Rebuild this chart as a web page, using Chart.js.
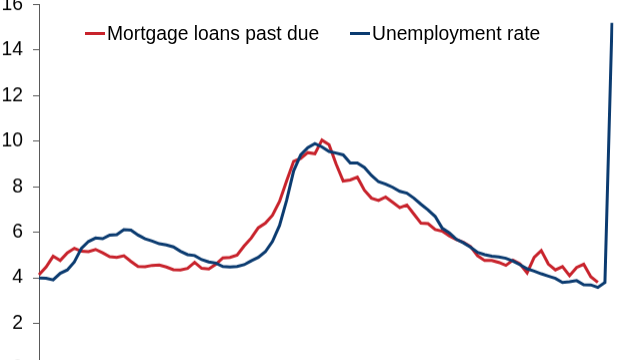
<!DOCTYPE html>
<html>
<head>
<meta charset="utf-8">
<script src="https://cdn.jsdelivr.net/npm/chart.js@4"></script>
<style>
  body { margin: 0; background: #fff; }
  #wrap { position: relative; width: 640px; height: 360px; overflow: hidden; }
  #chart { position: absolute; left: 0; top: -20px; }
  .legend-item { position: absolute; top: 0; font: 19.3px "Liberation Sans", Arial, sans-serif; color: #000; }
  .legend-item .swatch { position: absolute; width: 20px; height: 3px; top: 32px; }
  .legend-item .label { position: absolute; top: 23.7px; line-height: 1; white-space: nowrap; }
</style>
</head>
<body>
<div id="wrap">
  <canvas id="chart" width="640" height="400"></canvas>
  <div id="legend"></div>
</div>
<script>
// quarterly series
const mortgagePastDue = [
  4.14, 4.48, 4.95, 4.76, 5.1, 5.3, 5.17, 5.15, 5.25, 5.1,
  4.93, 4.9, 4.97, 4.72, 4.5, 4.49, 4.55, 4.57, 4.48, 4.36,
  4.35, 4.42, 4.68, 4.42, 4.39, 4.6, 4.88, 4.9, 5.0, 5.4,
  5.75, 6.2, 6.4, 6.75, 7.35, 8.25, 9.12, 9.25, 9.5, 9.45,
  10.05, 9.85, 9.0, 8.25, 8.3, 8.42, 7.85, 7.5, 7.4, 7.55,
  7.32, 7.08, 7.2, 6.8, 6.4, 6.38, 6.12, 6.05, 5.85, 5.68,
  5.56, 5.38, 4.97, 4.76, 4.76, 4.68, 4.55, 4.78, 4.61, 4.22,
  4.9, 5.2, 4.61, 4.35, 4.5, 4.1, 4.46, 4.6, 4.05, 3.8
];
const unemploymentRate = [
  4.0, 3.98, 3.91, 4.2, 4.35, 4.7, 5.3, 5.6, 5.75, 5.72,
  5.88, 5.9, 6.12, 6.1, 5.88, 5.72, 5.62, 5.5, 5.45, 5.36,
  5.17, 5.02, 4.98, 4.8, 4.7, 4.65, 4.5, 4.48, 4.5, 4.58,
  4.75, 4.9, 5.15, 5.6, 6.3, 7.4, 8.7, 9.4, 9.72, 9.9,
  9.75, 9.55, 9.48, 9.4, 9.05, 9.05, 8.85, 8.5, 8.22, 8.12,
  7.98, 7.8, 7.72, 7.5, 7.23, 6.98, 6.7, 6.18, 5.98, 5.7,
  5.54, 5.35, 5.12, 5.02, 4.95, 4.92, 4.86, 4.74, 4.58, 4.4,
  4.3, 4.18, 4.08, 3.98, 3.8, 3.83, 3.88, 3.7, 3.69, 3.58,
  3.8, 15.2
];
const seriesNames = ['Mortgage loans past due', 'Unemployment rate'];
const seriesColors = ['#C8232C', '#0B3B70'];
const yMin = 0, yMax = 16, yStep = 2;

// one category per quarter
const startYear = 2000;
const quarters = unemploymentRate.map((_, i) => (startYear + Math.floor(i / 4)) + ' Q' + (i % 4 + 1));

const font = { family: '"Liberation Sans", Arial, sans-serif', size: 19.3 };

const chart = new Chart(document.getElementById('chart'), {
  type: 'line',
  data: {
    labels: quarters,
    datasets: [
      { label: seriesNames[0], data: mortgagePastDue, borderColor: seriesColors[0], order: 1 },
      { label: seriesNames[1], data: unemploymentRate, borderColor: seriesColors[1], order: 0 }
    ]
  },
  options: {
    responsive: false,
    maintainAspectRatio: false,
    animation: false,
    layout: { padding: { top: 24.5, right: 28, bottom: 12, left: 0 } },
    elements: {
      line: { borderWidth: 3, tension: 0, fill: false },
      point: { radius: 0 }
    },
    plugins: { legend: { display: false }, tooltip: { enabled: false } },
    scales: {
      x: { display: false, offset: false },
      y: {
        min: yMin, max: yMax,
        ticks: { stepSize: yStep, font, color: '#000', padding: 10 },
        grid: { drawOnChartArea: false, tickLength: 6, color: '#595959' },
        border: { color: '#595959' },
        afterFit: (scale) => { scale.width = 39; }
      }
    }
  }
});

// the zero line sits just below the visible page (canvas y 388 = page y 368)
const bottomFix = 388 - chart.chartArea.bottom;
if (Math.abs(bottomFix) > 0.5) chart.resize(640, chart.height + bottomFix);

// html legend, built from the datasets
const legendLeft = [85, 350];
const legend = document.getElementById('legend');
chart.data.datasets.forEach((ds, i) => {
  const item = document.createElement('div');
  item.className = 'legend-item';
  item.style.left = legendLeft[i] + 'px';
  item.innerHTML = '<span class="swatch" style="background:' + ds.borderColor + '"></span>' +
    '<span class="label" style="left:22px">' + ds.label + '</span>';
  legend.appendChild(item);
});
</script>
</body>
</html>
